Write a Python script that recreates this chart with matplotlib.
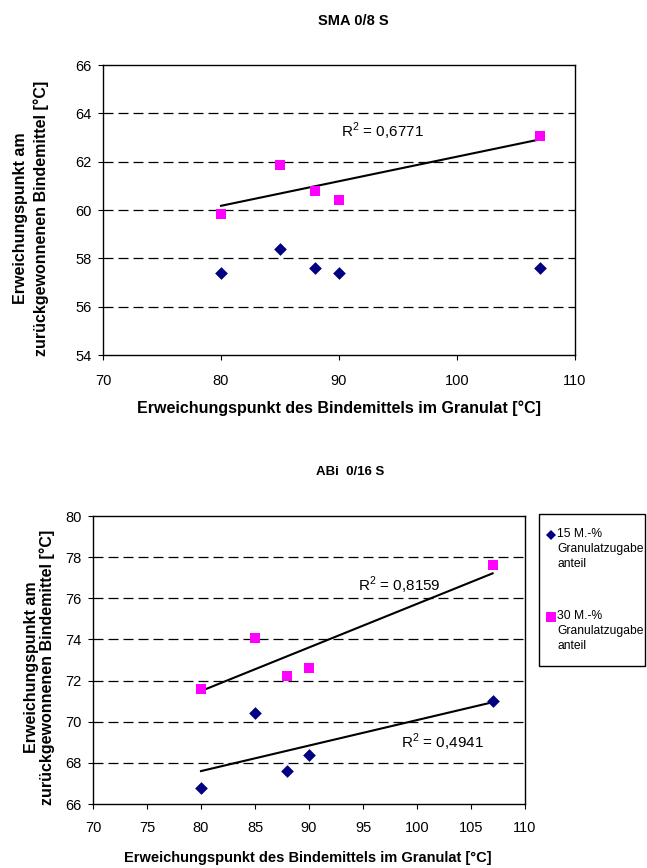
import numpy as np
import matplotlib
matplotlib.use("Agg")
import matplotlib.pyplot as plt
from matplotlib.lines import Line2D
from matplotlib.patches import Rectangle

plt.rcParams["font.family"] = ["Liberation Sans", "DejaVu Sans"]
plt.rcParams["mathtext.fontset"] = "custom"
plt.rcParams["mathtext.rm"] = "Liberation Sans"

# data
x_vals = [80, 85, 88, 90, 107]

sma_15 = [57.4, 58.4, 57.6, 57.4, 57.6]
sma_30 = [59.85, 61.85, 60.8, 60.4, 63.05]
sma_r2_30 = "0,6771"

abi_15 = [66.8, 70.4, 67.6, 68.4, 71.0]
abi_30 = [71.6, 74.05, 72.2, 72.6, 77.6]
abi_r2_15 = "0,4941"
abi_r2_30 = "0,8159"

legend_labels = ["15 M.-%\nGranulatzugabe\nanteil", "30 M.-%\nGranulatzugabe\nanteil"]

BLUE = "#000080"
PINK = "#FF00FF"
W, H = 647, 868

ylabel = "Erweichungspunkt am\nzurückgewonnenen Bindemittel [°C]"
xlabel = "Erweichungspunkt des Bindemittels im Granulat [°C]"


def px_axes(fig, left, top, right, bottom):
    return fig.add_axes([left / W, 1 - bottom / H, (right - left) / W, (bottom - top) / H])


def trend(ax, x, y):
    k, d = np.polyfit(x, y, 1)
    xs = np.array([min(x), max(x)])
    ax.plot(xs, k * xs + d, color="black", lw=1.5, zorder=2)


def r2_text(ax, x, y, val):
    ax.text(x, y, r"R$^{2}$ = " + val, fontsize=11, va="center", ha="left")


def style(ax, ylim, ystep, xstep, xpad):
    ax.set_xlim(70, 110)
    ax.set_ylim(*ylim)
    ax.set_xticks(np.arange(70, 111, xstep))
    ax.set_yticks(np.arange(ylim[0], ylim[1] + 0.1, ystep))
    for yv in np.arange(ylim[0] + ystep, ylim[1], ystep):
        ax.axhline(yv, color="black", lw=0.9, ls=(0, (8, 4)), zorder=1)
    for s in ax.spines.values():
        s.set_color("black")
        s.set_linewidth(1.0)
    ax.tick_params(direction="out", length=3.5, width=0.8, labelsize=10.5)
    ax.tick_params(axis="y", pad=4.5)
    ax.tick_params(axis="x", pad=xpad)


fig = plt.figure(figsize=(W / 100, H / 100), dpi=100)

# --- SMA 0/8 S ---
ax1 = px_axes(fig, 103, 65, 575, 355)
style(ax1, (54, 66), 2, 10, 10)
ax1.scatter(x_vals, sma_15, marker="D", s=42, color=BLUE, zorder=3, linewidths=0)
ax1.scatter(x_vals, sma_30, marker="s", s=50, color=PINK, zorder=3, linewidths=0)
trend(ax1, x_vals, sma_30)
r2_text(ax1, 90.2, 63.27, sma_r2_30)
ax1.set_xlabel(xlabel, fontsize=11.5, fontweight="bold")
ax1.xaxis.set_label_coords(0.5, -0.155)
fig.text(31 / W, 1 - 218 / H, ylabel, fontsize=11.5, fontweight="bold",
         rotation=90, ha="center", va="center", multialignment="center",
         linespacing=1.45)
fig.text(353 / W, 1 - 21 / H, "SMA 0/8 S", fontsize=10.5, fontweight="bold",
         ha="center", va="center")

# --- ABi 0/16 S ---
ax2 = px_axes(fig, 93, 516, 525, 804)
style(ax2, (66, 80), 2, 5, 9)
ax2.scatter(x_vals, abi_15, marker="D", s=42, color=BLUE, zorder=3, linewidths=0)
ax2.scatter(x_vals, abi_30, marker="s", s=50, color=PINK, zorder=3, linewidths=0)
trend(ax2, x_vals, abi_15)
trend(ax2, x_vals, abi_30)
r2_text(ax2, 94.5, 76.65, abi_r2_30)
r2_text(ax2, 98.5, 69.0, abi_r2_15)
ax2.set_xlabel(xlabel, fontsize=10.5, fontweight="bold")
ax2.xaxis.set_label_coords(0.498, -0.163)
fig.text(39.5 / W, 1 - 667 / H, ylabel, fontsize=11.5, fontweight="bold",
         rotation=90, ha="center", va="center", multialignment="center",
         linespacing=1.0)
fig.text(350 / W, 1 - 472 / H, "ABi  0/16 S", fontsize=9.5, fontweight="bold",
         ha="center", va="center")

# legend box, drawn by hand so the marker sits on the first line
fig.add_artist(Rectangle((539 / W, 1 - 666 / H), 106 / W, 152 / H,
                         transform=fig.transFigure, fill=False,
                         edgecolor="black", lw=1.0))
entries = [("D", BLUE, 5.5, 535, legend_labels[0]),
           ("s", PINK, 6.5, 617, legend_labels[1])]
for mk, col, ms, ypx, lab in entries:
    fig.add_artist(Line2D([551 / W], [1 - ypx / H], marker=mk, color=col, ms=ms,
                          mew=0, ls="none", transform=fig.transFigure))
    fig.text(557 / W, 1 - (ypx - 7) / H, lab, fontsize=8.7, ha="left", va="top",
             linespacing=1.35)

fig.savefig("out.png", dpi=100)
